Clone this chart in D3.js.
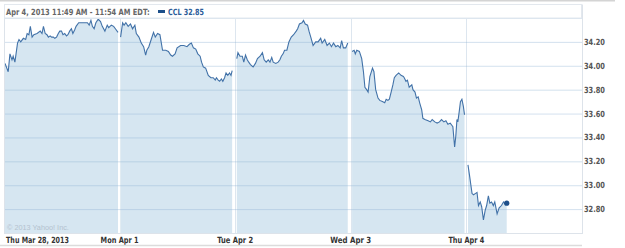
<!DOCTYPE html>
<html><head><meta charset="utf-8">
<script src="https://cdn.jsdelivr.net/npm/d3@7/dist/d3.min.js"></script>
<style>
html,body{margin:0;padding:0;background:#fff;}
svg{display:block;font-family:"DejaVu Sans",Verdana,sans-serif;}
</style></head>
<body>
<script>
// ---- data ----
const dayLabels = ["Thu Mar 28, 2013", "Mon Apr 1", "Tue Apr 2", "Wed Apr 3", "Thu Apr 4"];
const yTicks = [32.80, 33.00, 33.20, 33.40, 33.60, 33.80, 34.00, 34.20];
const headerText = "Apr 4, 2013 11:49 AM - 11:54 AM EDT:";
const symbolText = "CCL 32.85";
const copyright = "\u00A9 2013 Yahoo! Inc.";
// minutes since 9:30 open, per day
const minMar28 = [0,11,17,24,28,34,43,48,54,63,71,76,82,87,93,99,110,121,127,132,138,144,149,155,160,166,171,177,183,188,194,199,205,211,216,222,228,233,239,244,253,261,272,283,289,295,300,306,312,320,328,334,343,351,356,365,373,379,388];
const pxMar28 = [34.02,33.95,34.10,34.05,34.08,34.03,34.19,34.22,34.20,34.23,34.22,34.27,34.26,34.33,34.24,34.26,34.27,34.29,34.27,34.33,34.27,34.26,34.24,34.25,34.24,34.24,34.23,34.24,34.27,34.29,34.29,34.26,34.27,34.25,34.26,34.29,34.31,34.27,34.30,34.33,34.36,34.36,34.36,34.36,34.34,34.38,34.33,34.31,34.36,34.39,34.37,34.33,34.29,34.34,34.32,34.34,34.33,34.31,34.28];
const minApr1 = [0,7,12,18,26,34,41,49,54,63,71,79,86,90,97,105,113,119,127,135,144,155,164,172,178,187,194,206,217,228,236,243,250,258,265,273,278,284,292,301,310,318,325,329,335,340,346,351,357,362,368,374,379,383];
const pxApr1 = [34.24,34.36,34.34,34.36,34.33,34.35,34.31,34.34,34.27,34.24,34.19,34.16,34.09,34.13,34.16,34.22,34.28,34.24,34.27,34.26,34.13,34.13,34.12,34.09,34.08,34.10,34.15,34.17,34.17,34.16,34.18,34.19,34.15,34.14,34.10,34.08,34.03,33.99,33.98,33.92,33.90,33.90,33.88,33.90,33.88,33.87,33.89,33.87,33.90,33.94,33.92,33.94,33.92,33.96];
const minApr2 = [2,6,13,21,26,32,38,43,49,58,66,73,82,90,96,103,110,116,122,127,136,144,150,155,161,166,174,181,189,197,206,211,217,226,231,237,245,250,256,264,273,281,290,295,304,312,320,327,334,342,349,357,362,368,376,383];
const pxApr2 = [34.06,34.11,34.08,34.08,34.03,34.09,34.05,34.03,34.01,33.99,34.02,34.06,34.08,34.11,34.05,34.03,34.05,34.03,34.07,34.03,34.02,34.03,34.05,34.08,34.10,34.13,34.13,34.20,34.24,34.26,34.29,34.31,34.35,34.36,34.38,34.35,34.34,34.29,34.24,34.17,34.20,34.20,34.23,34.19,34.22,34.17,34.19,34.16,34.19,34.16,34.17,34.15,34.21,34.15,34.15,34.19];
const minApr3 = [1,8,12,17,26,34,40,45,51,56,62,71,76,82,90,96,105,113,118,124,129,135,141,146,152,161,169,177,180,186,191,197,206,210,217,222,228,233,240,244,251,262,270,276,285,293,301,308,316,323,330,338,344,347,353,357,361,364,369,373,378,383,387];
const pxApr3 = [34.12,34.13,34.10,34.13,34.12,34.06,33.95,33.82,33.80,33.78,33.91,33.98,33.95,33.80,33.73,33.71,33.70,33.69,33.72,33.71,33.72,33.78,33.84,33.90,33.92,33.94,33.92,33.91,33.90,33.87,33.88,33.82,33.84,33.80,33.78,33.73,33.74,33.69,33.63,33.56,33.55,33.54,33.53,33.55,33.53,33.52,33.53,33.55,33.53,33.54,33.51,33.52,33.50,33.49,33.32,33.41,33.55,33.53,33.62,33.70,33.72,33.66,33.59];
const minApr4 = [2,8,12,16,21,27,33,38,44,49,55,61,66,72,77,83,89,94,102,109,117,124,131,135];
const pxApr4 = [33.17,33.07,33.00,32.93,32.92,32.93,32.94,32.83,32.86,32.82,32.71,32.79,32.83,32.91,32.85,32.86,32.83,32.86,32.76,32.81,32.83,32.86,32.84,32.85];

const dayMinutes = [minMar28, minApr1, minApr2, minApr3, minApr4];
const dayPrices = [pxMar28, pxApr1, pxApr2, pxApr3, pxApr4];

// ---- layout ----
const W = 625, H = 248;
const L = 4, R = 582, T = 18, B = 233;
const svg = d3.select("body").append("svg").attr("width", W).attr("height", H);

const dayScale = d3.scaleBand().domain(d3.range(dayLabels.length)).range([L, R]).paddingInner(0).paddingOuter(0);
const y = d3.scaleLinear().domain([32.60, 34.40]).range([B, T]);
const minScale = d3.scaleLinear().domain([0, 390]);

function xFor(dayIdx, m) {
  const x0 = dayScale(dayIdx), bw = dayScale.bandwidth();
  return minScale.copy().range([x0 + 1, x0 + bw - 1])(m);
}

// place a text so that it spans exactly `len` px horizontally (anchor: start|middle)
function placeText(parent, str, x, yy, len, anchor, attrs) {
  const t = parent.append("text").text(str).attr("x", 0).attr("y", 0);
  Object.entries(attrs).forEach(([k, v]) => t.attr(k, v));
  const nat = t.node().getComputedTextLength();
  const s = len / nat;
  const x0 = anchor === "middle" ? x - len / 2 : x;
  t.attr("transform", `translate(${x0},${yy}) scale(${s},1)`);
  return t;
}

// top & bottom grey bars
svg.append("rect").attr("x", 0).attr("y", 0).attr("width", 615).attr("height", 1.5).attr("fill", "#d4d4d4");
svg.append("line").attr("x1", 0).attr("x2", R).attr("y1", 245.5).attr("y2", 245.5).attr("stroke", "#dcdcdc").attr("stroke-width", 1.5);

// header box
svg.append("rect").attr("x", L + 0.5).attr("y", 4.5).attr("width", R - L - 1).attr("height", T - 4.5)
  .attr("fill", "#fff").attr("stroke", "#e3e8ee");

// vertical day gridlines (light, full height)
const gV = svg.append("g");
dayScale.domain().slice(1).forEach(i => {
  const x = Math.round(dayScale(i)) + 0.5;
  gV.append("line").attr("x1", x).attr("x2", x).attr("y1", T).attr("y2", B).attr("stroke", "#dde6ef");
});

// area fills per day
const line = d3.line().curve(d3.curveLinear);
const defs = svg.append("defs");
const clip = defs.append("clipPath").attr("id", "areaClip");
dayMinutes.forEach((mins, i) => {
  const pts = mins.map((m, k) => [xFor(i, m), y(dayPrices[i][k])]);
  const a = d3.area().x(d => d[0]).y0(B).y1(d => d[1]);
  svg.append("path").attr("d", a(pts)).attr("fill", "#d6e6f1");
  clip.append("path").attr("d", a(pts));
});

// whitish separators inside fill
dayScale.domain().slice(1).forEach(i => {
  const x = Math.round(dayScale(i)) + 0.5;
  svg.append("line").attr("x1", x).attr("x2", x).attr("y1", T).attr("y2", B)
    .attr("stroke", "#eef4f8").attr("stroke-width", 1).attr("clip-path", "url(#areaClip)");
});

// horizontal gridlines
const yAxis = d3.axisRight(y).tickValues(yTicks).tickSize(-(R - L)).tickFormat("");
const gy = svg.append("g").attr("transform", `translate(${R},0)`).call(yAxis);
gy.select(".domain").remove();
gy.selectAll(".tick line").attr("stroke", "rgba(140,175,210,0.38)");
gy.selectAll(".tick text").remove();

// price lines
dayMinutes.forEach((mins, i) => {
  const pts = mins.map((m, k) => [xFor(i, m), y(dayPrices[i][k])]);
  svg.append("path").attr("d", line(pts)).attr("fill", "none").attr("stroke", "#4272a8").attr("stroke-width", 1.1);
});

// last point dot
const lastI = dayMinutes.length - 1;
const lm = dayMinutes[lastI], lp = dayPrices[lastI];
svg.append("circle").attr("cx", xFor(lastI, lm[lm.length - 1])).attr("cy", y(lp[lp.length - 1])).attr("r", 2.6).attr("fill", "#1d4f8a");

// plot frame
svg.append("line").attr("x1", L + 0.5).attr("x2", L + 0.5).attr("y1", T).attr("y2", B).attr("stroke", "#dde3ea");
svg.append("line").attr("x1", R + 0.5).attr("x2", R + 0.5).attr("y1", 4.5).attr("y2", B).attr("stroke", "#dde3ea");
svg.append("line").attr("x1", L).attr("x2", R).attr("y1", T + 0.5).attr("y2", T + 0.5).attr("stroke", "#dde6ef");
svg.append("line").attr("x1", L).attr("x2", R + 1).attr("y1", B + 0.5).attr("y2", B + 0.5).attr("stroke", "#dde3ea");

const boldAttrs = (fill) => ({"font-size": 8.5, "font-weight": "bold", "fill": fill});

// y labels
const fmt = d3.format(".2f");
const gyl = svg.append("g");
yTicks.forEach(v => placeText(gyl, fmt(v), R + 2, y(v) + 3, 21, "start", boldAttrs("#555")));

// x labels
const xLabelWidths = [63, 38, 36, 41, 36];
const gx = svg.append("g");
dayLabels.forEach((lab, i) => {
  const x = i === 0 ? L + 2 : dayScale(i);
  placeText(gx, lab, x, 243, xLabelWidths[i], i === 0 ? "start" : "middle", boldAttrs("#333"));
});

// header
placeText(svg, headerText, 6, 15, 144, "start", boldAttrs("#666"));
svg.append("rect").attr("x", 158).attr("y", 10).attr("width", 7).attr("height", 3).attr("fill", "#1d4f8a");
placeText(svg, symbolText, 168, 15, 36, "start", boldAttrs("#2b5d9a"));

// copyright
placeText(svg, copyright, 7, 230, 62, "start", {"font-size": 7.5, "fill": "#b4c2cf", "font-family": "'Liberation Sans',Arial,sans-serif"});
</script>
</body></html>
